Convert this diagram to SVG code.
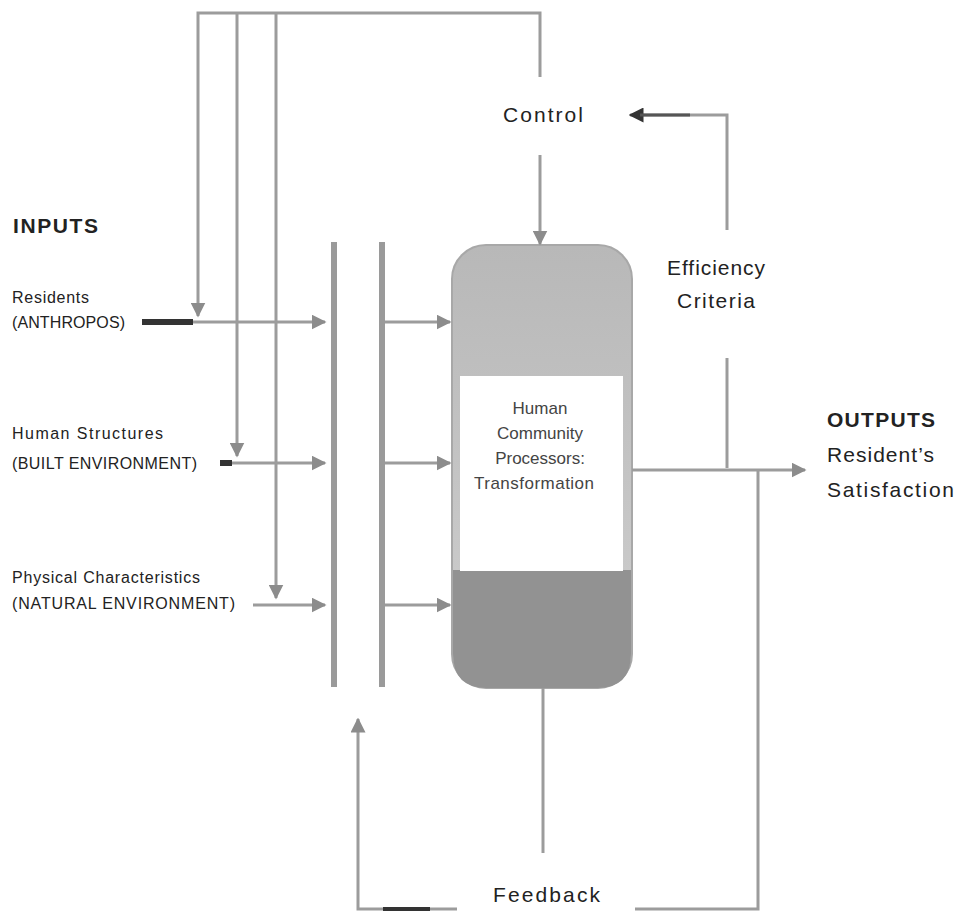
<svg xmlns="http://www.w3.org/2000/svg" width="960" height="918" viewBox="0 0 960 918">
<defs>
<style>
text{font-family:"Liberation Sans",Arial,sans-serif;fill:#222}
.lbl{font-size:16px}
.big{font-size:21px}
.bold{font-weight:bold}
.in{font-size:17px;fill:#444}
.ln{fill:none;stroke:#9c9c9c;stroke-width:3}
.bar{fill:none;stroke:#9a9a9a;stroke-width:6}
.dark{fill:none;stroke:#333;stroke-width:6}
</style>
<marker id="ah" viewBox="0 0 10 10" refX="9" refY="5" markerWidth="5" markerHeight="5" orient="auto" markerUnits="strokeWidth">
<path d="M0,0 L10,5 L0,10 z" fill="#8c8c8c"/>
</marker>
<marker id="ahd" viewBox="0 0 10 10" refX="9" refY="5" markerWidth="5" markerHeight="5" orient="auto" markerUnits="strokeWidth">
<path d="M0,0 L10,5 L0,10 z" fill="#333"/>
</marker>
<linearGradient id="topg" x1="0" y1="0" x2="0" y2="1">
<stop offset="0" stop-color="#b8b8b8"/>
<stop offset="1" stop-color="#cfcfcf"/>
</linearGradient>
<linearGradient id="fbR" x1="0" y1="0" x2="1" y2="0">
<stop offset="0" stop-color="#333"/>
<stop offset="1" stop-color="#9c9c9c"/>
</linearGradient>
</defs>
<rect width="960" height="918" fill="#fff"/>

<g id="labels-inputs">
<text class="big bold" x="13" y="233" textLength="85">INPUTS</text>
</g>
<g id="node-residents">
<text class="lbl" x="12" y="303" textLength="77">Residents</text>
<text class="lbl" x="12" y="328" textLength="113">(ANTHROPOS)</text>
</g>
<g id="node-built">
<text class="lbl" x="12" y="439" textLength="151">Human Structures</text>
<text class="lbl" x="12" y="469" textLength="185">(BUILT ENVIRONMENT)</text>
</g>
<g id="node-natural">
<text class="lbl" x="12" y="583" textLength="188">Physical Characteristics</text>
<text class="lbl" x="12" y="609" textLength="223">(NATURAL ENVIRONMENT)</text>
</g>

<g id="node-processor">
<rect x="452" y="245" width="180" height="443" rx="34" fill="url(#topg)" stroke="#a8a8a8" stroke-width="2"/>
<path d="M453,570 H631 V654 Q631,688 597,688 H487 Q453,688 453,654 Z" fill="#929292"/>
<rect x="460" y="376" width="163" height="195" fill="#fff"/>
<text class="in" x="540" y="414" text-anchor="middle">Human</text>
<text class="in" x="540" y="439" text-anchor="middle">Community</text>
<text class="in" x="540" y="464" text-anchor="middle">Processors:</text>
<text class="in" x="534" y="489" text-anchor="middle" textLength="120">Transformation</text>
</g>

<g id="node-control">
<text class="big" x="503" y="122" textLength="80">Control</text>
</g>
<g id="node-efficiency">
<text class="big" x="667" y="275" textLength="98">Efficiency</text>
<text class="big" x="677" y="308" textLength="78">Criteria</text>
</g>
<g id="node-outputs">
<text class="big bold" x="827" y="427" textLength="108">OUTPUTS</text>
<text class="big" x="827" y="462" textLength="107">Resident’s</text>
<text class="big" x="827" y="497" textLength="127">Satisfaction</text>
</g>
<g id="node-feedback">
<text class="big" x="493" y="902" textLength="107">Feedback</text>
</g>

<g id="connectors">
<!-- barriers -->
<line class="bar" x1="334" y1="242" x2="334" y2="687"/>
<line class="bar" x1="382" y1="242" x2="382" y2="687"/>
<!-- top control loop -->
<polyline class="ln" points="540,77 540,13 198,13 198,316" marker-end="url(#ah)"/>
<line class="ln" x1="237" y1="13" x2="237" y2="456" marker-end="url(#ah)"/>
<line class="ln" x1="276" y1="13" x2="276" y2="598" marker-end="url(#ah)"/>
<!-- control to processor -->
<line class="ln" x1="540" y1="155" x2="540" y2="244" marker-end="url(#ah)"/>
<!-- efficiency to control -->
<polyline class="ln" points="727,230 727,115 630,115" marker-end="url(#ahd)"/>
<line x1="640" y1="115" x2="690" y2="115" stroke="#555" stroke-width="3"/>
<line class="ln" x1="727" y1="358" x2="727" y2="468"/>
<!-- inputs -->
<line class="dark" x1="142" y1="322" x2="193" y2="322"/>
<line class="ln" x1="193" y1="322" x2="325" y2="322" marker-end="url(#ah)"/>
<line class="dark" x1="220" y1="463" x2="232" y2="463"/>
<line class="ln" x1="232" y1="463" x2="325" y2="463" marker-end="url(#ah)"/>
<line class="ln" x1="253" y1="605" x2="325" y2="605" marker-end="url(#ah)"/>
<line class="ln" x1="385" y1="322" x2="450" y2="322" marker-end="url(#ah)"/>
<line class="ln" x1="385" y1="463" x2="450" y2="463" marker-end="url(#ah)"/>
<line class="ln" x1="385" y1="605" x2="450" y2="605" marker-end="url(#ah)"/>
<!-- output -->
<line class="ln" x1="632" y1="470" x2="805" y2="470" marker-end="url(#ah)"/>
<!-- feedback -->
<polyline class="ln" points="758,470 758,909 635,909"/>
<line x1="635" y1="909" x2="720" y2="909" stroke="url(#fbR)" stroke-width="4"/>
<line class="ln" x1="543" y1="688" x2="543" y2="853"/>
<polyline class="ln" points="457,909 358,909 358,719" marker-end="url(#ah)"/>
<line x1="383" y1="909" x2="430" y2="909" stroke="#333" stroke-width="4"/>
</g>
</svg>
